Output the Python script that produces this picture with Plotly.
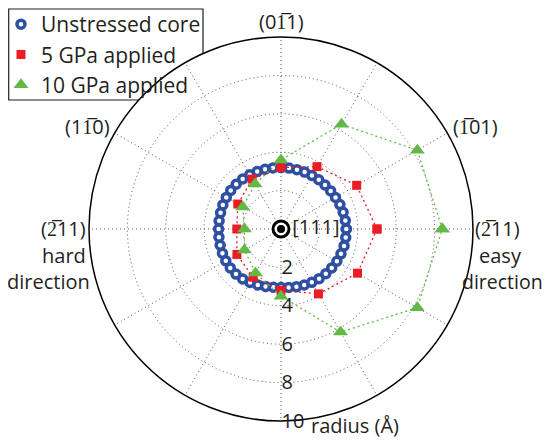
import plotly.graph_objects as go

# The page body adds an 8px margin, so the figure is 8px smaller on each axis
# and all reference pixel positions are shifted by -8.
OFF = 8
W, H = 554 - OFF, 442 - OFF
OL = "\u0305"  # combining overline

# ---------------- data ----------------
ring_theta = [0, 7.5, 15, 22.5, 30, 37.5, 45, 52.5, 60, 67.5, 75, 82.5,
              90, 97.5, 105, 112.5, 120, 127.5, 135, 142.5, 150, 157.5, 165, 172.5,
              180, 187.5, 195, 202.5, 210, 217.5, 225, 232.5, 240, 247.5, 255, 262.5,
              270, 277.5, 285, 292.5, 300, 307.5, 315, 322.5, 330, 337.5, 345, 352.5, 360]
ring_r = [3.40, 3.38, 3.35, 3.32, 3.28, 3.26, 3.24, 3.23, 3.22, 3.21, 3.20, 3.20,
          3.20, 3.21, 3.22, 3.24, 3.26, 3.28, 3.30, 3.30, 3.29, 3.28, 3.26, 3.25,
          3.25, 3.26, 3.28, 3.30, 3.32, 3.33, 3.32, 3.28, 3.22, 3.16, 3.10, 3.06,
          3.05, 3.07, 3.11, 3.16, 3.21, 3.26, 3.30, 3.33, 3.36, 3.38, 3.40, 3.40, 3.40]

dir_theta = [0, 30, 60, 90, 120, 150, 180, 210, 240, 270, 300, 330, 360]
gpa5_r = [5.0, 4.55, 3.75, 3.2, 3.0, 2.6, 2.3, 2.65, 2.9, 3.2, 3.9, 4.6, 5.0]
gpa10_r = [8.4, 8.2, 6.3, 3.6, 2.7, 2.3, 1.9, 2.2, 2.65, 3.5, 6.2, 8.2, 8.4]

radial_ticks = [2, 4, 6, 8, 10]
radial_labels = ["2", "4", "6", "8", "10"]

series_names = ["Unstressed core", "5 GPa applied", "10 GPa applied"]

FONT = "Open Sans"
INK = "#231f20"
BLUE = "#2f4fa2"
RED = "#ec1c24"
GREEN = "#62b946"

fig = go.Figure()

# connecting lines (kept out of the legend)
fig.add_trace(go.Scatterpolar(r=ring_r, theta=ring_theta, mode="lines", showlegend=False,
                              line=dict(color=BLUE, width=2), hoverinfo="skip"))
fig.add_trace(go.Scatterpolar(r=ring_r, theta=ring_theta, mode="markers", name=series_names[0],
                              marker=dict(symbol="circle", size=8, color="white",
                                          line=dict(color=BLUE, width=3.5))))
fig.add_trace(go.Scatterpolar(r=gpa5_r, theta=dir_theta, mode="lines", showlegend=False,
                              line=dict(color=RED, width=1.3, dash="2px,3px"), hoverinfo="skip"))
fig.add_trace(go.Scatterpolar(r=gpa5_r, theta=dir_theta, mode="markers", name=series_names[1],
                              marker=dict(symbol="square", size=9, color=RED)))
fig.add_trace(go.Scatterpolar(r=gpa10_r, theta=dir_theta, mode="lines", showlegend=False,
                              line=dict(color=GREEN, width=1.3, dash="2px,3px"), hoverinfo="skip"))
fig.add_trace(go.Scatterpolar(r=gpa10_r, theta=dir_theta, mode="markers", name=series_names[2],
                              marker=dict(symbol="triangle-up", size=13, color=GREEN)))
# [111] axis marker at the centre
fig.add_trace(go.Scatterpolar(
    r=[0], theta=[0], mode="markers", showlegend=False,
    marker=dict(symbol="circle", size=16, color="white", line=dict(color="black", width=3)),
))
fig.add_trace(go.Scatterpolar(
    r=[0], theta=[0], mode="markers+text", showlegend=False,
    marker=dict(symbol="circle", size=8, color="black"),
    text=[" [111]"], textposition="middle right",
    textfont=dict(family=FONT, size=20, color=INK),
))

cx, cy, R = 281 - OFF, 229 - OFF, 192
fig.update_layout(
    width=W, height=H,
    margin=dict(l=0, r=0, t=0, b=0, pad=0, autoexpand=False),
    paper_bgcolor="white", plot_bgcolor="white",
    font=dict(family=FONT, color=INK),
    polar=dict(
        domain=dict(x=[(cx - R) / W, (cx + R) / W], y=[(H - cy - R) / H, (H - cy + R) / H]),
        bgcolor="white",
        angularaxis=dict(
            rotation=0, direction="counterclockwise", dtick=30,
            showticklabels=False, ticks="",
            showline=True, linecolor="black", linewidth=1.5,
            showgrid=True, gridcolor="#555555", gridwidth=1, griddash="1px,3px",
        ),
        radialaxis=dict(
            range=[0, 10], angle=-90, tickangle=-90, side="counterclockwise",
            tickvals=radial_ticks, ticktext=radial_labels,
            tickfont=dict(family=FONT, size=20, color=INK),
            showline=False, ticks="",
            showgrid=True, gridcolor="#555555", gridwidth=1, griddash="1px,3px",
        ),
    ),
    legend=dict(
        x=-7 / W, y=1 + 4 / H, xanchor="left", yanchor="top",
        borderwidth=0, bgcolor="rgba(0,0,0,0)",
        font=dict(family=FONT, size=21, color=INK),
        tracegroupgap=0, itemwidth=30,
    ),
    shapes=[dict(type="rect", xref="paper", yref="paper",
                 x0=0.7 / W, x1=195 / W, y0=1 - 92 / H, y1=1 - 1 / H,
                 line=dict(color=INK, width=1.2), fillcolor="white", layer="below")],
)

def ann(text, px, py, xanchor="center", yanchor="middle", size=20):
    fig.add_annotation(text=text, x=(px - OFF) / W, y=1 - (py - OFF) / H,
                       xref="paper", yref="paper",
                       xanchor=xanchor, yanchor=yanchor, showarrow=False,
                       font=dict(family=FONT, size=size, color=INK))

ann("(01" + OL + "1)", 281, 22)
ann("(1" + OL + "01)", 475, 126)
ann("(11" + OL + "0)", 87, 126)
ann("(2" + OL + "11)", 473, 229, "left")
ann("easy", 477, 255, "left")
ann("direction", 545, 281, "right", size=19.5)
ann("(2" + OL + "11)", 88, 229, "right")
ann("hard", 88, 255, "right")
ann("direction", 92, 281, "right")
ann("radius (Å)", 355, 441, "center", "bottom")

fig.write_html("out.html")
